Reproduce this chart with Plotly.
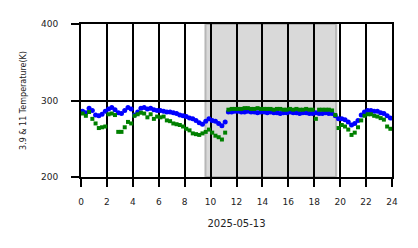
import plotly.graph_objects as go

hours = [0.125 + 0.25 * i for i in range(96)]

temp_39 = [
    286, 284, 290, 287, 281, 280, 282, 286, 289, 291, 288, 284, 283, 287, 291, 289,
    281, 285, 290, 291, 289, 290, 288, 287, 287, 286, 285, 285, 284, 283, 281, 280,
    279, 277, 276, 274, 271, 269, 273, 276, 274, 273, 270, 267, 272,
    285, 285, 286, 286, 285, 285, 286, 285, 285, 284, 285, 285, 284, 285, 284, 284,
    283, 284, 284, 285, 284, 284, 283, 284, 284, 283, 283, 284, 283, 283, 284, 283, 283, 280,
    276, 276, 275, 272, 268, 270, 274, 281, 285, 287, 287, 286, 286, 284, 283, 280, 277,
]

temp_11 = [
    283, 280, 285, 276, 270, 264, 265, 266, 282, 283, 281, 259, 259, 265, 272, 270,
    280, 282, 284, 283, 278, 282, 276, 279, 278, 279, 274, 273, 270, 269, 268, 266,
    263, 261, 257, 256, 255, 257, 259, 262, 258, 254, 252, 249, 258,
    288, 289, 289, 289, 289, 290, 290, 289, 289, 290, 289, 289, 289, 289, 288, 289,
    289, 288, 288, 289, 288, 289, 288, 288, 289, 288, 288, 276, 288, 288, 288, 288, 287, 281,
    264, 268, 266, 262, 255, 258, 265, 274, 280, 282, 282, 280, 279, 277, 275, 266, 263,
]

x_ticks = list(range(0, 25, 2))
y_ticks = [200, 300, 400]
shade_start, shade_end = 9.6, 19.7

fig = go.Figure()
fig.add_trace(go.Scatter(x=hours, y=temp_39, mode="markers",
                         marker=dict(symbol="circle", size=5, color="#0000ff", line=dict(width=0)),
                         name="3.9"))
fig.add_trace(go.Scatter(x=hours, y=temp_11, mode="markers",
                         marker=dict(symbol="square", size=4, color="#008000", line=dict(width=0)),
                         name="11"))

fig.add_vrect(x0=shade_start, x1=shade_end, fillcolor="#d9d9d9", opacity=1, layer="below",
              line=dict(color="rgba(150,150,150,0.6)", width=2))

axis_font = dict(family="DejaVu Sans", size=9, color="#222")
fig.update_layout(
    width=418, height=248,
    margin=dict(l=81, r=26, t=24, b=71),
    paper_bgcolor="white", plot_bgcolor="rgba(0,0,0,0)",
    showlegend=False,
    font=dict(family="DejaVu Sans", size=9, color="#222"),
)
fig.update_xaxes(range=[0, 24], tickvals=x_ticks, ticktext=[str(v) for v in x_ticks],
                 showgrid=True, gridcolor="black", gridwidth=2,
                 showline=True, mirror=True, linecolor="black", linewidth=2,
                 ticks="outside", ticklen=8, tickwidth=2, tickcolor="black",
                 tickfont=axis_font, zeroline=False, ticklabelstandoff=7,
                 title=dict(text="2025-05-13", font=dict(family="DejaVu Sans", size=10, color="#222"), standoff=14))
fig.update_yaxes(range=[200, 400], tickvals=y_ticks,
                 showgrid=True, gridcolor="black", gridwidth=2,
                 showline=True, mirror=True, linecolor="black", linewidth=2,
                 ticks="outside", ticklen=8, tickwidth=2, tickcolor="black",
                 tickfont=axis_font, zeroline=False, ticklabelstandoff=11,
                 title=dict(text="3.9 & 11 Temperature(K)", font=dict(family="DejaVu Sans", size=8, color="#222"), standoff=13))

fig.write_html("out.html")
